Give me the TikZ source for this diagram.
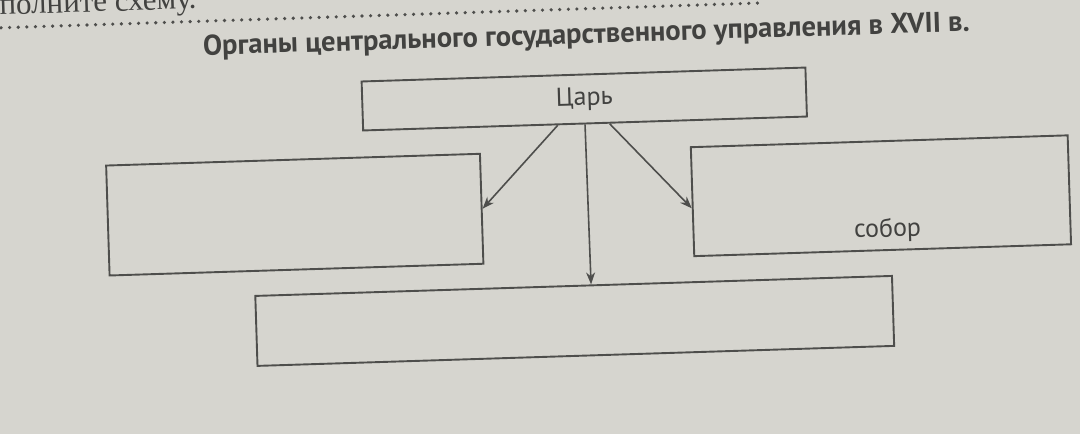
\documentclass[tikz,border=0pt]{standalone}
\usepackage{fontspec}
\setmainfont{PT Sans}
\newfontfamily\serifru{Liberation Serif}
\usetikzlibrary{arrows.meta}
\definecolor{paper}{RGB}{214,213,207}
\definecolor{ink}{RGB}{78,78,76}
\definecolor{txt}{RGB}{66,66,64}
\begin{document}
\begin{tikzpicture}[x=0.5pt,y=-0.5pt,
  box/.style={draw=ink, line width=0.95pt, rectangle, inner sep=0pt, anchor=north west, transform shape},
  arr/.style={draw=ink, line width=0.8pt, -{Stealth[length=6pt,width=4.5pt]}},
  lbl/.style={text=txt, font=\fontsize{13}{15}\selectfont, inner sep=0pt, transform shape},
  dotline/.style={draw=ink, line width=1.8pt, line cap=round, dash pattern=on 0pt off 4.3pt}]
\fill[paper] (0,0) rectangle (1080,434);
\useasboundingbox (0,0) rectangle (1080,434);
\clip (0,0) rectangle (1080,434);
\begin{scope}[rotate around={1.8:(540,217)}]
  \node[transform shape, anchor=base west, inner sep=0pt, text=txt,
        font=\serifru\fontsize{15.5}{18}\selectfont] (task) at (6,-2) {полните схему.};
  \coordinate (d1) at (-10,11);
  \coordinate (d2) at (767,10);
  \draw[dotline] (d1) -- (d2);
  \node[lbl, font=\bfseries\fontsize{14.3}{16}\selectfont] (title) at (592,37.5)
       {Органы центрального государственного управления в XVII в.};
  \node[box, lbl, anchor=north west, minimum width=222pt, minimum height=24.5pt] (tsar) at (365,75) {Царь};
  \node[box, minimum width=187pt, minimum height=55pt] (lft) at (107,151) {};
  \node[box, minimum width=188.5pt, minimum height=54.5pt] (rgt) at (692,151) {};
  \node[box, minimum width=318.5pt, minimum height=35pt] (bot) at (252,286) {};
  \node[lbl] (sobor) at (887,241) {собор};
  \draw[arr] (tsar.-137.2) -- (lft.east);
  \draw[arr] (tsar.south) -- (bot.64.8);
  \draw[arr] (tsar.-46.2) -- (rgt.182.3);
\end{scope}
\end{tikzpicture}
\end{document}
